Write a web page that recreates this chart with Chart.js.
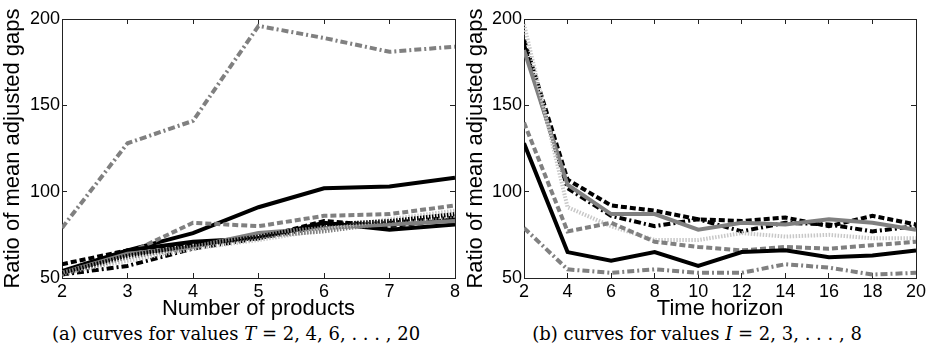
<!DOCTYPE html>
<html lang="en">
<head>
<meta charset="utf-8">
<script src="https://cdn.jsdelivr.net/npm/chart.js"></script>
<style>
    body { margin: 0; background: #fff; width: 926px; height: 347px; position: relative; overflow: hidden; }
    .box { position: absolute; top: 0; width: 463px; height: 320px; }
    .cap { position: absolute; top: 323px; font-family: "DejaVu Serif", serif; font-size: 18px; white-space: nowrap; transform: translateX(-50%); }
    .cap i { font-style: italic; }
</style>
</head>
<body>
<div class="box" style="left:0"><canvas id="chartA" width="463" height="320"></canvas></div>
<div class="box" style="left:463px"><canvas id="chartB" width="463" height="320"></canvas></div>
<div class="cap" style="left:236px">(a) curves for values <i>T</i> = 2, 4, 6, . . . , 20</div>
<div class="cap" style="left:697px">(b) curves for values <i>I</i> = 2, 3, . . . , 8</div>
<script>
// left panel: number of products, one curve per T
var products = [2, 3, 4, 5, 6, 7, 8];
var T2  = [79, 128, 141, 196, 189, 181, 184];
var T4  = [53, 66, 76, 91, 102, 103, 108];
var T6  = [53, 64, 82, 80, 86, 87, 92];
var T8  = [54, 66, 71, 73, 82, 78, 81];
var T10 = [58, 66, 70, 73, 83, 80, 84];
var T12 = [52, 57, 67, 73, 80, 82, 85];
var T14 = [53, 64, 68, 76, 79, 81, 83];
var T16 = [53, 60, 67, 72, 78, 84, 89];
var T18 = [52, 62, 68, 74, 77, 82, 86];
var T20 = [53, 63, 69, 74, 81, 83, 87];

// right panel: time horizon, one curve per I
var horizon = [2, 4, 6, 8, 10, 12, 14, 16, 18, 20];
var I2 = [188, 107, 92, 89, 84, 83, 85, 80, 86, 81];
var I3 = [185, 102, 86, 80, 84, 77, 82, 81, 77, 80];
var I4 = [182, 104, 87, 87, 78, 82, 81, 84, 82, 78];
var I5 = [197, 91, 80, 72, 72, 76, 74, 75, 73, 73];
var I6 = [140, 77, 82, 71, 68, 66, 68, 67, 69, 71];
var I7 = [128, 65, 60, 65, 57, 65, 66, 62, 63, 66];
var I8 = [79, 55, 53, 55, 53, 53, 58, 56, 52, 53];

var yTicks = [50, 100, 150, 200];

var BLACK = '#000000', GRAY = '#808080', LIGHT = '#c8c8c8';
var SOLID = [], DASH = [6, 3], DOT = [1.5, 1.5], DASHDOT = [7, 3, 2, 3];
var AXIS = '#222222';

function line(xs, ys, color, dash) {
    return {
        data: xs.map(function (x, i) { return {x: x, y: ys[i]}; }),
        xAxisID: 'x',
        yAxisID: 'y',
        borderColor: color,
        borderDash: dash,
        borderWidth: 4,
        pointRadius: 0,
        tension: 0,
        fill: false
    };
}

// matlab style: box on all four sides, short ticks pointing inward
var inwardGrid = {display: true, drawOnChartArea: false, drawTicks: true, tickLength: -5, color: AXIS, lineWidth: 1};
var axisBorder = {display: true, color: AXIS, width: 1};
var sans = 'Liberation Sans';

function setYTicks(s) {
    s.ticks = yTicks.map(function (v) { return {value: v}; });
}

function makeChart(id, datasets, xMin, xMax, xStep, xTitle, padRight, yWidth) {
    return new Chart(document.getElementById(id), {
        type: 'line',
        data: {datasets: datasets},
        options: {
            responsive: false,
            animation: false,
            devicePixelRatio: 1,
            layout: {padding: {left: 2, right: padRight, top: 19, bottom: 0}},
            plugins: {legend: {display: false}, tooltip: {enabled: false}},
            scales: {
                x: {
                    type: 'linear', position: 'bottom', min: xMin, max: xMax,
                    grid: inwardGrid,
                    border: axisBorder,
                    ticks: {stepSize: xStep, color: '#000', padding: 8, maxRotation: 0,
                            font: {family: sans, size: 18}},
                    title: {display: true, text: xTitle, color: '#000', padding: 0,
                            font: {family: sans, size: 22, lineHeight: 1}},
                    afterFit: function (s) { s.height = 42; s.paddingRight = 0; s.paddingLeft = 0; }
                },
                x2: {
                    type: 'linear', position: 'top', min: xMin, max: xMax,
                    grid: inwardGrid,
                    border: axisBorder,
                    ticks: {stepSize: xStep, display: false},
                    afterFit: function (s) { s.height = 0; s.paddingRight = 0; s.paddingLeft = 0; }
                },
                y: {
                    type: 'linear', position: 'left', min: 50, max: 200,
                    afterBuildTicks: setYTicks,
                    grid: inwardGrid,
                    border: axisBorder,
                    ticks: {color: '#000', padding: 7, font: {family: sans, size: 18}},
                    title: {display: true, text: 'Ratio of mean adjusted gaps', color: '#000', padding: 0,
                            font: {family: sans, size: 22, lineHeight: 1}},
                    afterFit: function (s) { s.width = yWidth; }
                },
                y2: {
                    type: 'linear', position: 'right', min: 50, max: 200,
                    afterBuildTicks: setYTicks,
                    grid: inwardGrid,
                    border: axisBorder,
                    ticks: {display: false},
                    afterFit: function (s) { s.width = 0; }
                }
            }
        }
    });
}

makeChart('chartA', [
    line(products, T2, GRAY, DASHDOT),
    line(products, T20, BLACK, DOT),
    line(products, T18, GRAY, DOT),
    line(products, T16, LIGHT, DOT),
    line(products, T14, GRAY, SOLID),
    line(products, T12, BLACK, DASHDOT),
    line(products, T10, BLACK, DASH),
    line(products, T8, BLACK, SOLID),
    line(products, T6, GRAY, DASH),
    line(products, T4, BLACK, SOLID)
], 2, 8, 1, 'Number of products', 8, 60);

makeChart('chartB', [
    line(horizon, I8, GRAY, DASHDOT),
    line(horizon, I7, BLACK, SOLID),
    line(horizon, I6, GRAY, DASH),
    line(horizon, I5, LIGHT, DOT),
    line(horizon, I4, GRAY, SOLID),
    line(horizon, I3, BLACK, DASHDOT),
    line(horizon, I2, BLACK, DASH)
], 2, 20, 2, 'Time horizon', 10, 59);
</script>
</body>
</html>
